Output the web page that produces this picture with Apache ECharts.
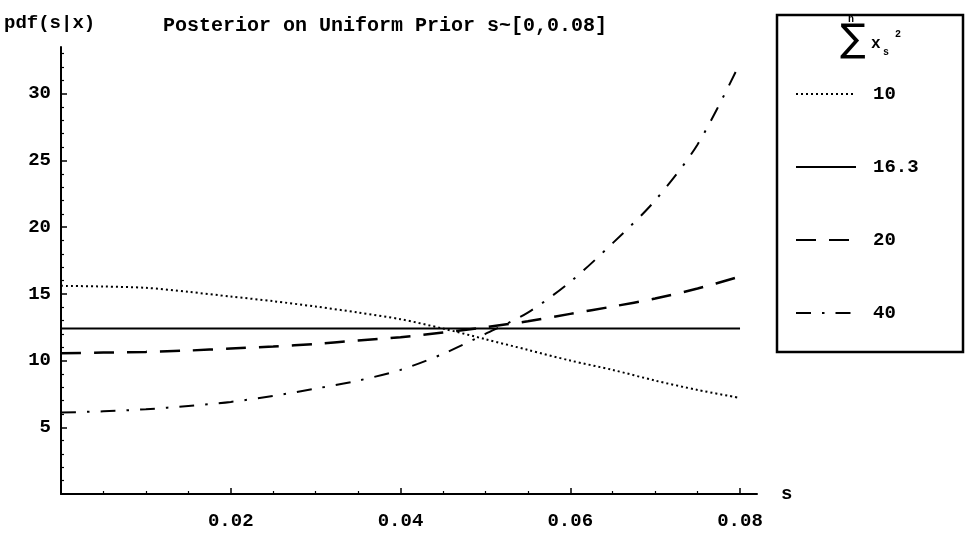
<!DOCTYPE html>
<html>
<head>
<meta charset="utf-8">
<script src="https://cdn.jsdelivr.net/npm/echarts@6/dist/echarts.min.js"></script>
<style>
  html, body { margin: 0; padding: 0; background: #fff; }
  #chart { width: 967px; height: 533px; }
</style>
</head>
<body>
<div id="chart"></div>
<script>
// s values where curves were read
const sValues = [0, 0.005, 0.01, 0.015, 0.02, 0.025, 0.03, 0.035, 0.04,
                 0.045, 0.05, 0.055, 0.06, 0.065, 0.07, 0.075, 0.08];

// pdf(s|x) for each sum of squares
const pdf10   = [15.6, 15.55, 15.45, 15.15, 14.8, 14.45, 14.05, 13.6, 13.1,
                 12.4, 11.6, 10.8, 10.0, 9.3, 8.5, 7.8, 7.2];
const pdf16_3 = [12.4, 12.4, 12.4, 12.4, 12.4, 12.4, 12.4, 12.4, 12.4,
                 12.4, 12.4, 12.4, 12.4, 12.4, 12.4, 12.4, 12.4];
const pdf20   = [10.55, 10.6, 10.65, 10.75, 10.9, 11.05, 11.25, 11.5, 11.75,
                 12.1, 12.5, 12.95, 13.5, 14.05, 14.65, 15.4, 16.3];
const pdf40   = [6.1, 6.2, 6.35, 6.6, 6.9, 7.35, 7.9, 8.5, 9.3,
                 10.5, 12.0, 13.6, 15.9, 18.8, 22.0, 26.2, 32.3];

const seriesNames = ['10', '16.3', '20', '40'];
const xTicks = [0.02, 0.04, 0.06, 0.08];
const yTicks = [5, 10, 15, 20, 25, 30];

const font = 'Liberation Mono';
const pair = (ys) => sValues.map((s, i) => [s, ys[i]]);
const txt = (size) => ({ fontFamily: font, fontSize: size, fontWeight: 'bold', color: '#000' });

const chart = echarts.init(document.getElementById('chart'));

function mkSeries(name, ys, type, width) {
  return {
    name: name,
    type: 'line',
    data: pair(ys),
    smooth: 0.3,
    symbol: 'none',
    lineStyle: { color: '#000', width: width, type: type },
    itemStyle: { color: '#000' }
  };
}

chart.setOption({
  backgroundColor: '#fff',
  animation: false,
  title: {
    text: 'Posterior on Uniform Prior s~[0,0.08]',
    left: 158, top: 11,
    textStyle: txt(20)
  },
  grid: { left: 61, right: 210, top: 47, bottom: 39 },
  xAxis: {
    type: 'value',
    min: 0, max: 0.082, interval: 0.02,
    name: 's', nameGap: 24,
    nameTextStyle: Object.assign(txt(19), { padding: [8, 0, 0, 0] }),
    splitLine: { show: false },
    axisLine: { lineStyle: { color: '#000', width: 2 } },
    axisTick: { inside: true, length: 6, customValues: xTicks, lineStyle: { color: '#000', width: 1.5 } },
    minorTick: { show: true, splitNumber: 4, length: 3, lineStyle: { color: '#000', width: 1.2 } },
    axisLabel: Object.assign(txt(19), {
      customValues: xTicks, margin: 18,
      formatter: (v) => v.toFixed(2)
    })
  },
  yAxis: {
    type: 'value',
    min: 0, max: 33.5, interval: 5,
    name: 'pdf(s|x)',
    nameLocation: 'end', nameGap: 14,
    nameTextStyle: Object.assign(txt(19), { align: 'left', padding: [0, 0, 0, -57] }),
    splitLine: { show: false },
    axisLine: { show: true, lineStyle: { color: '#000', width: 2 } },
    axisTick: { show: true, inside: true, length: 6, customValues: yTicks, lineStyle: { color: '#000', width: 1.5 } },
    minorTick: { show: true, splitNumber: 5, length: 3, lineStyle: { color: '#000', width: 1.2 } },
    axisLabel: Object.assign(txt(19), { customValues: yTicks, margin: 10 })
  },
  legend: {
    orient: 'vertical',
    left: 790, top: 78,
    itemWidth: 60, itemHeight: 14, itemGap: 51,
    data: seriesNames,
    itemStyle: { opacity: 0, borderWidth: 0 },
    textStyle: Object.assign(txt(19), { lineHeight: 22, padding: [0, 0, 0, 12] })
  },
  graphic: [
    {
      type: 'rect',
      shape: { x: 777, y: 15, width: 186, height: 337 },
      style: { fill: 'none', stroke: '#000', lineWidth: 2.5 }
    },
    { type: 'text', x: 840, y: 22, style: { text: '\u2211', font: '38px "DejaVu Sans"', fill: '#000' } },
    { type: 'text', x: 848, y: 14, style: { text: 'n', font: 'bold 10px "Liberation Mono"', fill: '#000' } },
    { type: 'text', x: 871, y: 36, style: { text: 'x', font: 'bold 16px "Liberation Mono"', fill: '#000' } },
    { type: 'text', x: 883, y: 47, style: { text: 's', font: 'bold 10px "Liberation Mono"', fill: '#000' } },
    { type: 'text', x: 895, y: 29, style: { text: '2', font: 'bold 10px "Liberation Mono"', fill: '#000' } }
  ],
  series: [
    mkSeries('10', pdf10, [2, 3], 2),
    mkSeries('16.3', pdf16_3, 'solid', 2),
    mkSeries('20', pdf20, [20, 13], 2.5),
    mkSeries('40', pdf40, [15, 11, 2.5, 11], 2)
  ]
});
</script>
</body>
</html>
